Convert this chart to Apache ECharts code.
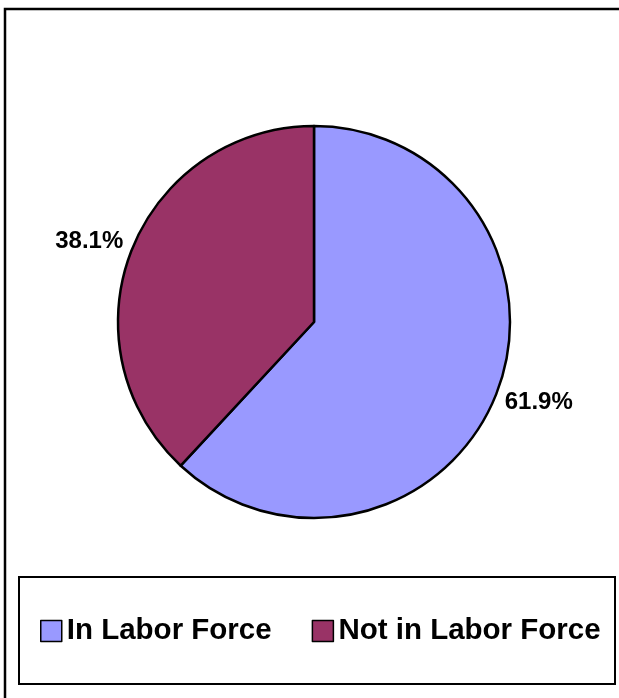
<!DOCTYPE html>
<html>
<head>
<meta charset="utf-8">
<script src="https://cdn.jsdelivr.net/npm/echarts@6/dist/echarts.min.js"></script>
<style>
html,body{margin:0;padding:0;background:#fff;}
#chart{width:619px;height:698px;}
</style>
</head>
<body>
<div id="chart"></div>
<script>
const categories = ['In Labor Force', 'Not in Labor Force'];
const values = [61.9, 38.1];
const colors = ['#9999FF', '#993366'];

const chart = echarts.init(document.getElementById('chart'), null, {renderer: 'canvas'});
const fontFamily = '"Liberation Sans", Arial, sans-serif';

chart.setOption({
  animation: false,
  backgroundColor: '#ffffff',
  color: colors,
  graphic: [
    {type: 'rect', shape: {x: 5, y: 9, width: 640, height: 720}, style: {fill: 'none', stroke: '#000', lineWidth: 2.5}, silent: true, z: 0},
    {type: 'rect', shape: {x: 19, y: 577, width: 596, height: 107}, style: {fill: 'none', stroke: '#000', lineWidth: 2}, silent: true, z: 0}
  ],
  legend: {
    data: categories,
    orient: 'horizontal',
    left: 40,
    top: 616,
    padding: 0,
    itemGap: 40,
    itemWidth: 21,
    itemHeight: 21,
    icon: 'rect',
    itemStyle: {borderColor: '#000', borderWidth: 1.5},
    textStyle: {fontFamily: fontFamily, fontWeight: 'bold', fontSize: 29.5, color: '#000', lineHeight: 30}
  },
  series: [{
    type: 'pie',
    center: [314, 322],
    radius: 196,
    startAngle: 90,
    clockwise: true,
    avoidLabelOverlap: false,
    itemStyle: {borderColor: '#000', borderWidth: 2.5},
    label: {
      show: true,
      position: 'outside',
      distanceToLabelLine: -15,
      formatter: p => p.value.toFixed(1) + '%',
      fontFamily: fontFamily,
      fontWeight: 'bold',
      fontSize: 24,
      color: '#000'
    },
    labelLine: {show: false, length: 25, length2: 0},
    emphasis: {disabled: true},
    data: categories.map((c, i) => ({name: c, value: values[i]}))
  }]
});
</script>
</body>
</html>
